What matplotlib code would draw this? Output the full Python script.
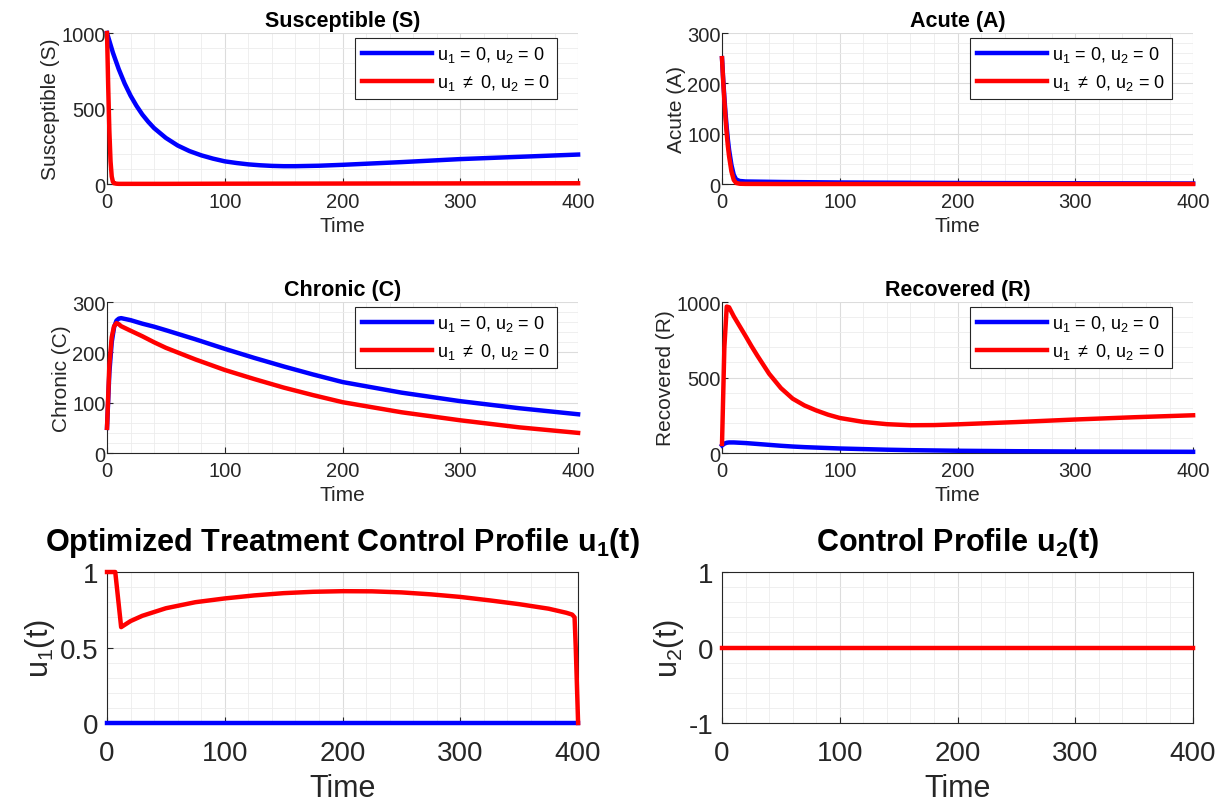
import matplotlib
matplotlib.use("Agg")
import matplotlib.pyplot as plt
from matplotlib.ticker import AutoMinorLocator, MultipleLocator, FuncFormatter

plt.rcParams["font.family"] = ["Liberation Sans", "DejaVu Sans"]
plt.rcParams["mathtext.fontset"] = "custom"
plt.rcParams["mathtext.rm"] = "Liberation Sans"
plt.rcParams["mathtext.it"] = "Liberation Sans"
plt.rcParams["mathtext.bf"] = "Liberation Sans:bold"
plt.rcParams["mathtext.default"] = "regular"

INK, BLUE, RED = "#262626", "#0000ff", "#ff0000"

# ---- data (time in days) ----
t_s = [0, 5, 10, 15, 20, 25, 30, 35, 40, 50, 60, 70, 80, 90, 100, 110, 120, 130, 140, 150,
       160, 180, 200, 250, 300, 350, 400]
s_free = [1000, 870, 760, 665, 585, 518, 460, 412, 370, 305, 255, 218, 190, 168, 150, 139, 130,
          124, 120, 118, 118, 121, 127, 145, 165, 180, 195]
t_s_ctl = [0, 1, 2, 3, 4, 5, 6, 8, 10, 50, 100, 200, 300, 400]
s_ctl = [1000, 650, 350, 150, 50, 15, 5, 2, 1, 1, 2, 3, 4, 5]

t_a = [0, 1, 2, 3, 4, 5, 6, 8, 10, 12, 15, 20, 50, 100, 200, 300, 400]
a_free = [250, 208, 172, 140, 112, 88, 68, 38, 18, 9, 6, 5, 4, 3, 2, 1.5, 1]
a_ctl = [250, 205, 165, 130, 100, 75, 55, 25, 8, 2, 0.5, 0.2, 0, 0, 0, 0, 0]

t_c = [0, 2, 4, 6, 8, 10, 12, 20, 30, 40, 50, 75, 100, 125, 150, 175, 200, 250, 300, 350, 400]
c_free = [50, 160, 220, 250, 263, 267, 268, 264, 257, 251, 244, 226, 207, 189, 172, 156, 141, 120,
          103, 89, 77]
c_ctl = [50, 175, 230, 252, 258, 256, 252, 243, 232, 220, 209, 186, 165, 147, 130, 115, 101, 81,
         65, 51, 40]

t_r = [0, 2, 4, 6, 10, 15, 20, 25, 30, 40, 50, 60, 70, 80, 90, 100, 120, 140, 160, 180, 200,
       250, 300, 350, 400]
r_free = [50, 62, 68, 70, 70, 68, 66, 63, 60, 54, 48, 43, 39, 36, 33, 30, 26, 22, 19, 17, 15, 12,
          10, 9, 8]
r_ctl = [60, 700, 970, 965, 905, 840, 775, 708, 645, 525, 430, 360, 315, 282, 254, 232, 206, 191,
         184, 185, 190, 205, 222, 237, 250]

t_u = [0, 7, 12, 20, 30, 50, 75, 100, 125, 150, 175, 200, 225, 250, 275, 300, 325, 350, 375, 390,
       395, 397, 398, 400]
u1_ctl = [1, 1, 0.635, 0.675, 0.71, 0.76, 0.80, 0.825, 0.845, 0.86, 0.869, 0.873, 0.872, 0.865,
          0.852, 0.835, 0.812, 0.787, 0.757, 0.73, 0.718, 0.70, 0.5, 0]
t_u0 = [0, 400]
u1_free = [0, 0]
u2_ctl = [0, 0]

LEG_FREE = r"$u_1$ = 0, $u_2$ = 0"
LEG_CTL = r"$u_1$ $\neq$ 0, $u_2$ = 0"

fig = plt.figure(figsize=(12.3, 8.04), dpi=100, facecolor="white")
L1, L2, W, H = 0.087, 0.587, 0.383, 0.1878
B1, B2, B3 = 0.7699, 0.4353, 0.0995
num = FuncFormatter(lambda v, p: f"{v:g}")


def style(ax, ticksize, box, xpad, ypad):
    ax.set_xlim(0, 400)
    ax.xaxis.set_major_locator(MultipleLocator(100))
    ax.xaxis.set_minor_locator(AutoMinorLocator(5))
    ax.yaxis.set_minor_locator(AutoMinorLocator(5))
    ax.yaxis.set_major_formatter(num)
    ax.grid(which="major", color="#dcdcdc", lw=0.8)
    ax.grid(which="minor", color="#ececec", lw=0.6)
    ax.set_axisbelow(True)
    ax.tick_params(which="both", direction="in", colors=INK, labelsize=ticksize, width=0.8)
    ax.tick_params(which="major", length=4)
    ax.tick_params(which="minor", length=0)
    ax.tick_params(axis="x", pad=xpad)
    ax.tick_params(axis="y", pad=ypad)
    for sp in ax.spines.values():
        sp.set_color(INK)
        sp.set_linewidth(0.8)
    if not box:
        ax.spines["top"].set_visible(False)
        ax.spines["right"].set_visible(False)


def state_panel(pos, title, ylabel, ymax, ystep, tb, yb, tr, yr):
    ax = fig.add_axes(pos)
    style(ax, 14.5, box=False, xpad=5.5, ypad=1)
    ax.plot(tb, yb, color=BLUE, lw=3.2, label=LEG_FREE, clip_on=False, zorder=3)
    ax.plot(tr, yr, color=RED, lw=3.2, label=LEG_CTL, clip_on=False, zorder=4)
    ax.set_ylim(0, ymax)
    ax.yaxis.set_major_locator(MultipleLocator(ystep))
    ax.set_title(title, fontsize=15.5, fontweight="bold", color="black", pad=5)
    ax.set_xlabel("Time", fontsize=15, color=INK, labelpad=4)
    ax.set_ylabel(ylabel, fontsize=15, color=INK, labelpad=1)
    leg = ax.legend(loc="upper right", fontsize=13, handlelength=3.9, handletextpad=0.3,
                    fancybox=False, framealpha=1, edgecolor=INK, borderpad=0.35,
                    labelspacing=0.45, borderaxespad=0, bbox_to_anchor=(0.955, 0.967))
    leg.get_frame().set_linewidth(0.8)
    return ax


state_panel([L1, B1, W, H], "Susceptible (S)", "Susceptible (S)", 1000, 500,
            t_s, s_free, t_s_ctl, s_ctl)
state_panel([L2, B1, W, H], "Acute (A)", "Acute (A)", 300, 100,
            t_a, a_free, t_a, a_ctl)
state_panel([L1, B2, W, H], "Chronic (C)", "Chronic (C)", 300, 100,
            t_c, c_free, t_c, c_ctl)
state_panel([L2, B2, W, H], "Recovered (R)", "Recovered (R)", 1000, 500,
            t_r, r_free, t_r, r_ctl)

ax5 = fig.add_axes([L1, B3, W, H])
style(ax5, 20, box=True, xpad=12, ypad=6)
ax5.plot(t_u0, u1_free, color=BLUE, lw=3.2, clip_on=False, zorder=3)
ax5.plot(t_u, u1_ctl, color=RED, lw=3.2, clip_on=False, zorder=4)
ax5.set_ylim(0, 1)
ax5.yaxis.set_major_locator(MultipleLocator(0.5))
ax5.set_title(r"Optimized Treatment Control Profile $\mathbf{u_1}$(t)", fontsize=22,
              fontweight="bold", color="black", pad=16)
ax5.set_xlabel("Time", fontsize=22, color=INK, labelpad=5)
ax5.set_ylabel(r"$u_1$(t)", fontsize=22, color=INK, labelpad=2)

ax6 = fig.add_axes([L2, B3, W, H])
style(ax6, 20, box=True, xpad=12, ypad=6)
ax6.plot(t_u0, u2_ctl, color=RED, lw=3.2, clip_on=False, zorder=4)
ax6.set_ylim(-1, 1)
ax6.yaxis.set_major_locator(MultipleLocator(1))
ax6.set_title(r"Control Profile $\mathbf{u_2}$(t)", fontsize=22, fontweight="bold",
              color="black", pad=16)
ax6.set_xlabel("Time", fontsize=22, color=INK, labelpad=5)
ax6.set_ylabel(r"$u_2$(t)", fontsize=22, color=INK, labelpad=2)

fig.savefig("out.png", dpi=100, facecolor="white")
